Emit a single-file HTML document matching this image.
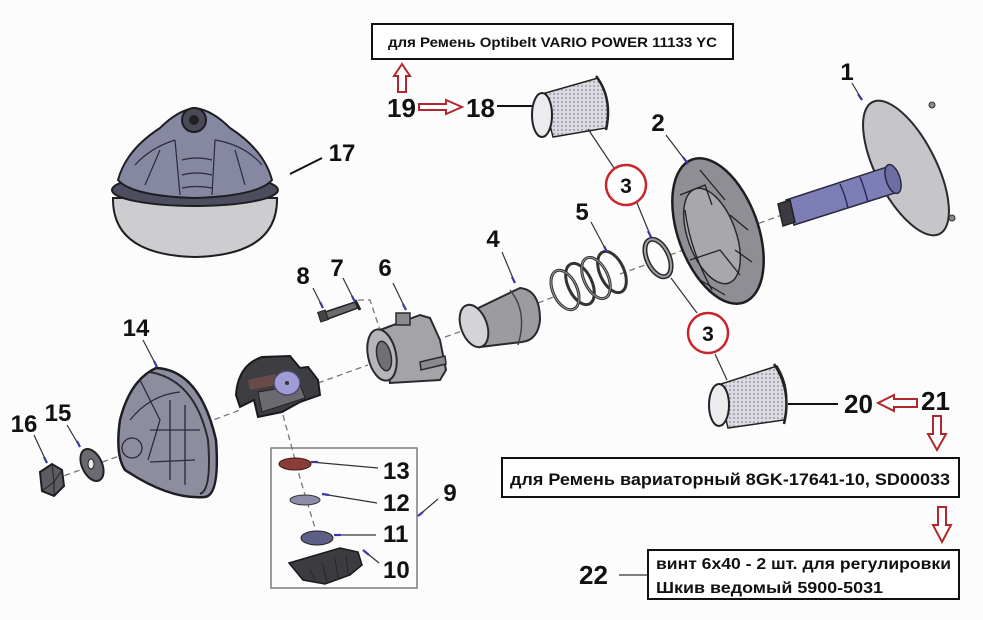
<!DOCTYPE html>
<html><head><meta charset="utf-8"><style>
html,body{margin:0;padding:0;background:#fff;}
svg{display:block;}
.n{font-family:"Liberation Sans",sans-serif;font-weight:bold;fill:#111;}
.t{font-family:"Liberation Sans","Noto Sans CJK SC",sans-serif;font-weight:bold;fill:#111;}
</style></head><body>
<svg width="983" height="620" viewBox="0 0 983 620" xmlns="http://www.w3.org/2000/svg">
<rect width="983" height="620" fill="#fcfcfc"/>
<defs>
<pattern id="dots" width="4" height="4" patternUnits="userSpaceOnUse">
<rect width="4" height="4" fill="#dcdae2"/><circle cx="2" cy="2" r="0.9" fill="#8a8896"/>
</pattern>
</defs>

<!-- dashed axis -->
<g stroke="#777" stroke-width="1.3" stroke-dasharray="6,4" fill="none">
<line x1="55" y1="479" x2="122" y2="455"/>
<line x1="205" y1="423" x2="240" y2="410"/>
<line x1="318" y1="383" x2="368" y2="365"/>
<line x1="445" y1="337" x2="465" y2="330"/>
<line x1="538" y1="303" x2="556" y2="296"/>
<line x1="620" y1="274" x2="648" y2="264"/>
<line x1="670" y1="255" x2="700" y2="244"/>
<line x1="740" y1="230" x2="782" y2="215"/>
<polyline points="283,415 300,478 318,538"/>
<polyline points="358,300 370,300 380,330"/>
</g>

<!-- Part 17 -->
<g stroke="#1e1e22" stroke-width="2">
<path d="M113,198 Q112,255 195,257 Q278,255 277,198 Z" fill="#cdcdd0"/>
<ellipse cx="195" cy="190" rx="83" ry="16" fill="#4c4d5e"/>
<path d="M118,180 Q126,150 160,128 Q178,110 195,108 Q212,110 230,128 Q264,150 272,180 Q258,196 195,198 Q132,196 118,180 Z" fill="#8688a2"/>
</g>
<g stroke="#2a2a3a" stroke-width="1.2" fill="none">
<path d="M135,165 Q150,148 175,140"/><path d="M175,140 L180,195"/><path d="M215,140 L212,195"/>
<path d="M182,160 Q196,156 212,160"/><path d="M182,175 Q196,171 212,175"/><path d="M182,188 Q196,185 212,188"/>
<path d="M215,140 Q245,145 262,165"/><path d="M145,185 L160,150"/><path d="M245,185 L235,150"/>
</g>
<circle cx="194" cy="120" r="12" fill="#4a4a58" stroke="#1e1e22" stroke-width="2"/>
<circle cx="194" cy="120" r="5" fill="#222"/>

<!-- Part 1 -->
<ellipse cx="906" cy="168" rx="30" ry="74" transform="rotate(-27 906 168)" fill="#c6c6ca" stroke="#2a2a2e" stroke-width="2"/>
<path d="M786,200 L890,166 L898,192 L794,225 Z" fill="#7e7eb6" stroke="#2a2a40" stroke-width="1.5"/>
<ellipse cx="893" cy="179" rx="7" ry="15" transform="rotate(-18 893 179)" fill="#6e6ea6" stroke="#2a2a40" stroke-width="1.5"/>
<path d="M840,184 Q845,195 848,208 M860,177 Q865,190 868,202" stroke="#2a2a60" stroke-width="1.5" fill="none"/>
<path d="M778,204 L790,200 L795,222 L783,226 Z" fill="#3a3a44" stroke="#222" stroke-width="1.5"/>
<circle cx="932" cy="105" r="3" fill="#888" stroke="#333"/><circle cx="952" cy="218" r="3" fill="#888" stroke="#333"/>

<!-- Part 2 -->
<ellipse cx="718" cy="231" rx="40" ry="76" transform="rotate(-20 718 231)" fill="#8e8e94" stroke="#1e1e22" stroke-width="2.5"/>
<ellipse cx="712" cy="236" rx="24" ry="50" transform="rotate(-20 712 236)" fill="#a8a8ac" stroke="#2a2a2e" stroke-width="1.5"/>
<g stroke="#222" stroke-width="1.3" fill="none">
<path d="M680,195 L705,185 L712,205"/><path d="M690,260 L720,250 L740,275"/><path d="M730,215 L748,230"/>
<path d="M685,210 Q690,250 712,290"/><path d="M700,170 L725,200"/><path d="M735,250 L752,262"/><path d="M700,280 L725,295"/>
</g>

<!-- Part 18 -->
<path d="M542,94 L598,78 Q612,100 606,128 L553,137 Z" fill="url(#dots)" stroke="#222" stroke-width="1.5"/>
<ellipse cx="542" cy="115" rx="10" ry="22" fill="#ececf0" stroke="#222" stroke-width="2"/>
<path d="M596,76 Q613,98 606,130" stroke="#222" stroke-width="2.5" fill="none"/>

<!-- Part 3 ring -->
<ellipse cx="658" cy="258" rx="11" ry="20" transform="rotate(-25 658 258)" fill="none" stroke="#2a2a2e" stroke-width="5"/>
<ellipse cx="658" cy="258" rx="11" ry="20" transform="rotate(-25 658 258)" fill="none" stroke="#a0a0a4" stroke-width="2"/>

<!-- Spring 5 -->
<g fill="none" stroke="#333" stroke-width="3">
<ellipse cx="565" cy="290" rx="12" ry="21" transform="rotate(-25 565 290)"/>
<ellipse cx="580" cy="284" rx="12" ry="22" transform="rotate(-25 580 284)"/>
<ellipse cx="596" cy="278" rx="12" ry="22" transform="rotate(-25 596 278)"/>
<ellipse cx="612" cy="272" rx="12" ry="22" transform="rotate(-25 612 272)"/>
</g>
<g fill="none" stroke="#999" stroke-width="1">
<ellipse cx="565" cy="290" rx="12" ry="21" transform="rotate(-25 565 290)"/>
<ellipse cx="596" cy="278" rx="12" ry="22" transform="rotate(-25 596 278)"/>
</g>

<!-- Part 4 -->
<path d="M470,312 L520,288 Q540,290 540,320 Q538,340 522,342 L480,347 Z" fill="#9c9ca0" stroke="#2a2a2e" stroke-width="2"/>
<ellipse cx="474" cy="326" rx="13" ry="22" transform="rotate(-20 474 326)" fill="#d4d4d6" stroke="#2a2a2e" stroke-width="2"/>
<path d="M510,290 Q528,312 518,345" stroke="#444" stroke-width="1.5" fill="none"/>

<!-- Part 6 -->
<path d="M380,330 L420,315 L430,318 L440,340 L446,370 L440,380 L390,383 Z" fill="#a4a4a8" stroke="#2a2a2e" stroke-width="2"/>
<ellipse cx="382" cy="355" rx="14" ry="26" transform="rotate(-12 382 355)" fill="#b6b6ba" stroke="#2a2a2e" stroke-width="2"/>
<ellipse cx="384" cy="356" rx="7" ry="15" transform="rotate(-12 384 356)" fill="#707074" stroke="#2a2a2e" stroke-width="1.5"/>
<rect x="396" y="313" width="14" height="12" fill="#8a8a8e" stroke="#2a2a2e" stroke-width="1.5"/>
<path d="M420,362 L445,356 L446,364 L421,370 Z" fill="#8a8a8e" stroke="#2a2a2e" stroke-width="1.5"/>

<!-- Bolt 7/8 -->
<path d="M322,313 L355,302 L358,308 L325,320 Z" fill="#6a6a70" stroke="#222" stroke-width="1.5"/>
<rect x="319" y="311" width="8" height="10" fill="#444" stroke="#222" transform="rotate(-18 323 316)"/>
<path d="M355,300 L360,310" stroke="#222" stroke-width="3"/>

<!-- Middle part (unlabelled) -->
<path d="M236,395 Q238,365 262,357 L290,356 L300,368 L308,367 L318,380 L320,395 L300,402 L282,412 L258,417 L254,400 L240,407 Z" fill="#3e3e42" stroke="#1a1a1e" stroke-width="2"/>
<path d="M258,392 L300,385 L305,398 L262,412 Z" fill="#6a6a70" stroke="#222" stroke-width="1"/>
<path d="M248,380 L275,374 L276,385 L250,390 Z" fill="#6a4a48"/>
<ellipse cx="287" cy="383" rx="13" ry="12" fill="#a09cd8" stroke="#4a4a6a" stroke-width="1.5"/>
<circle cx="287" cy="383" r="2" fill="#333"/>

<!-- Part 14 -->
<path d="M156,368 Q200,370 216,440 Q220,495 205,497 Q170,500 125,470 Q115,455 120,420 Q130,380 156,368 Z" fill="#8c8ea0" stroke="#1e1e22" stroke-width="2.5"/>
<path d="M150,372 Q195,380 208,440 Q212,490 200,494" stroke="#2a2a2e" stroke-width="2" fill="none"/>
<g stroke="#2a2a3a" stroke-width="1.3" fill="none">
<circle cx="132" cy="448" r="10"/><path d="M140,380 L160,420 L148,460"/><path d="M150,430 L200,430"/><path d="M150,462 L195,460"/>
<path d="M170,400 L170,480"/><path d="M185,405 L185,485"/><path d="M130,420 Q150,395 180,392"/>
</g>

<!-- Washer 15, Nut 16 -->
<ellipse cx="92" cy="465" rx="10" ry="17" transform="rotate(-25 92 465)" fill="#6a6a72" stroke="#222" stroke-width="2"/>
<ellipse cx="91" cy="464" rx="3" ry="5" fill="#eee" stroke="#222"/>
<path d="M40,472 L52,464 L62,470 L64,486 L54,496 L42,491 Z" fill="#5c5c62" stroke="#1e1e22" stroke-width="2"/>
<path d="M52,464 L54,482 L62,470 M54,482 L54,496 M54,482 L42,491" stroke="#222" stroke-width="1" fill="none"/>

<!-- Part 20 -->
<path d="M718,385 L777,366 Q792,390 784,420 L728,428 Z" fill="url(#dots)" stroke="#222" stroke-width="1.5"/>
<ellipse cx="719" cy="405" rx="10" ry="21" fill="#ececf0" stroke="#222" stroke-width="2"/>
<path d="M774,364 Q792,390 784,424" stroke="#222" stroke-width="2.5" fill="none"/>

<!-- Box 9 -->
<rect x="271" y="448" width="146" height="140" fill="none" stroke="#7a7a80" stroke-width="1.5"/>
<ellipse cx="295" cy="464" rx="16" ry="6" fill="#8a3c38" stroke="#3a1a1a" stroke-width="1"/>
<ellipse cx="305" cy="500" rx="15" ry="5" fill="#8c8ca8" stroke="#333" stroke-width="1"/>
<ellipse cx="317" cy="538" rx="16" ry="7" fill="#5e5e86" stroke="#222" stroke-width="1"/>
<path d="M289,563 L340,548 L358,552 L362,565 L350,575 L325,584 L303,580 Z" fill="#3c3c40" stroke="#1a1a1e" stroke-width="1.5"/>
<g stroke="#222" stroke-width="0.8" fill="none"><path d="M310,570 L315,580 M322,562 L327,582 M335,558 L338,578 M346,555 L348,574"/></g>

<!-- leader lines -->
<g stroke="#333" stroke-width="1.2" fill="none">
<line x1="852" y1="83" x2="862" y2="100"/>
<line x1="666" y1="135" x2="688" y2="164"/>
<line x1="588" y1="129" x2="614" y2="168"/>
<line x1="637" y1="203" x2="651" y2="237"/>
<line x1="671" y1="278" x2="697" y2="313"/>
<line x1="715" y1="354" x2="727" y2="380"/>
<line x1="591" y1="222" x2="607" y2="252"/>
<line x1="502" y1="252" x2="515" y2="283"/>
<line x1="393" y1="283" x2="406" y2="310"/>
<line x1="343" y1="278" x2="355" y2="302"/>
<line x1="313" y1="288" x2="323" y2="308"/>
<line x1="143" y1="340" x2="157" y2="367"/>
<line x1="34" y1="435" x2="47" y2="463"/>
<line x1="67" y1="425" x2="80" y2="447"/>
<line x1="311" y1="462" x2="378" y2="468"/>
<line x1="322" y1="494" x2="377" y2="503"/>
<line x1="334" y1="535" x2="376" y2="535"/>
<line x1="363" y1="550" x2="379" y2="563"/>
<line x1="418" y1="516" x2="438" y2="499"/>
</g>
<!-- blue tips -->
<g stroke="#3a3aa0" stroke-width="2.2" fill="none">
<line x1="858" y1="94" x2="862" y2="100"/>
<line x1="683" y1="157" x2="688" y2="164"/>
<line x1="648" y1="231" x2="651" y2="237"/>
<line x1="604" y1="246" x2="607" y2="252"/>
<line x1="512" y1="277" x2="515" y2="283"/>
<line x1="403" y1="304" x2="406" y2="310"/>
<line x1="352" y1="296" x2="355" y2="302"/>
<line x1="320" y1="302" x2="323" y2="308"/>
<line x1="154" y1="361" x2="157" y2="367"/>
<line x1="44" y1="457" x2="47" y2="463"/>
<line x1="77" y1="441" x2="80" y2="447"/>
<line x1="311" y1="462" x2="318" y2="462"/>
<line x1="322" y1="494" x2="329" y2="495"/>
<line x1="334" y1="535" x2="341" y2="535"/>
<line x1="363" y1="550" x2="369" y2="555"/>
<line x1="418" y1="516" x2="423" y2="512"/>
</g>
<g stroke="#111" stroke-width="2" fill="none">
<line x1="290" y1="174" x2="322" y2="158"/>
<line x1="497" y1="106" x2="532" y2="106"/>
<line x1="788" y1="404" x2="838" y2="404"/>
</g>
<line x1="619" y1="575" x2="648" y2="575" stroke="#333" stroke-width="1.2"/>

<!-- red circles -->
<circle cx="626" cy="185" r="20" fill="#fff" stroke="#c8262a" stroke-width="2.5"/>
<text x="626" y="193" class="n" font-size="21" text-anchor="middle">3</text>
<circle cx="708" cy="333" r="20" fill="#fff" stroke="#c8262a" stroke-width="2.5"/>
<text x="708" y="341" class="n" font-size="21" text-anchor="middle">3</text>

<!-- red hollow arrows -->
<g fill="#fff" stroke="#b0282c" stroke-width="2">
<path d="M398,92 L398,76 L394,76 L402,64 L410,76 L406,76 L406,92 Z"/>
<path d="M419,104 L446,104 L446,100 L462,107 L446,114 L446,110 L419,110 Z"/>
<path d="M917,399 L894,399 L894,395 L878,403 L894,411 L894,407 L917,407 Z"/>
<path d="M933,416 L941,416 L941,434 L946,434 L937,450 L928,434 L933,434 Z"/>
<path d="M938,507 L946,507 L946,525 L951,525 L942,542 L933,525 L938,525 Z"/>
</g>

<!-- number labels -->
<g class="n">
<text x="387" y="117" font-size="26">19</text>
<text x="466" y="117" font-size="26">18</text>
<text x="847" y="80" font-size="24" text-anchor="middle">1</text>
<text x="658" y="131" font-size="24" text-anchor="middle">2</text>
<text x="582" y="220" font-size="24" text-anchor="middle">5</text>
<text x="493" y="247" font-size="24" text-anchor="middle">4</text>
<text x="385" y="276" font-size="24" text-anchor="middle">6</text>
<text x="337" y="276" font-size="24" text-anchor="middle">7</text>
<text x="303" y="284" font-size="24" text-anchor="middle">8</text>
<text x="342" y="161" font-size="24" text-anchor="middle">17</text>
<text x="136" y="336" font-size="24" text-anchor="middle">14</text>
<text x="24" y="432" font-size="24" text-anchor="middle">16</text>
<text x="58" y="421" font-size="24" text-anchor="middle">15</text>
<text x="450" y="501" font-size="24" text-anchor="middle">9</text>
<text x="383" y="479" font-size="24">13</text>
<text x="383" y="511" font-size="24">12</text>
<text x="383" y="542" font-size="24">11</text>
<text x="383" y="578" font-size="24">10</text>
<text x="844" y="413" font-size="26">20</text>
<text x="921" y="410" font-size="26">21</text>
<text x="579" y="584" font-size="26">22</text>
</g>

<!-- text boxes -->
<rect x="372" y="24" width="361" height="35" fill="#fff" stroke="#111" stroke-width="2"/>
<text x="388" y="47" class="t" font-size="14" textLength="329" lengthAdjust="spacingAndGlyphs">для Ремень Optibelt VARIO POWER 11133 YC</text>

<rect x="502" y="458" width="457" height="39" fill="#fff" stroke="#111" stroke-width="2"/>
<text x="510" y="485" class="t" font-size="17" textLength="440" lengthAdjust="spacingAndGlyphs">для Ремень вариаторный 8GK-17641-10, SD00033</text>

<rect x="648" y="550" width="311" height="49" fill="#fff" stroke="#111" stroke-width="2"/>
<text x="656" y="569" class="t" font-size="16" textLength="295" lengthAdjust="spacingAndGlyphs">винт 6х40 - 2 шт. для регулировки</text>
<text x="656" y="593" class="t" font-size="16" textLength="227" lengthAdjust="spacingAndGlyphs">Шкив ведомый 5900-5031</text>
</svg>
</body></html>
